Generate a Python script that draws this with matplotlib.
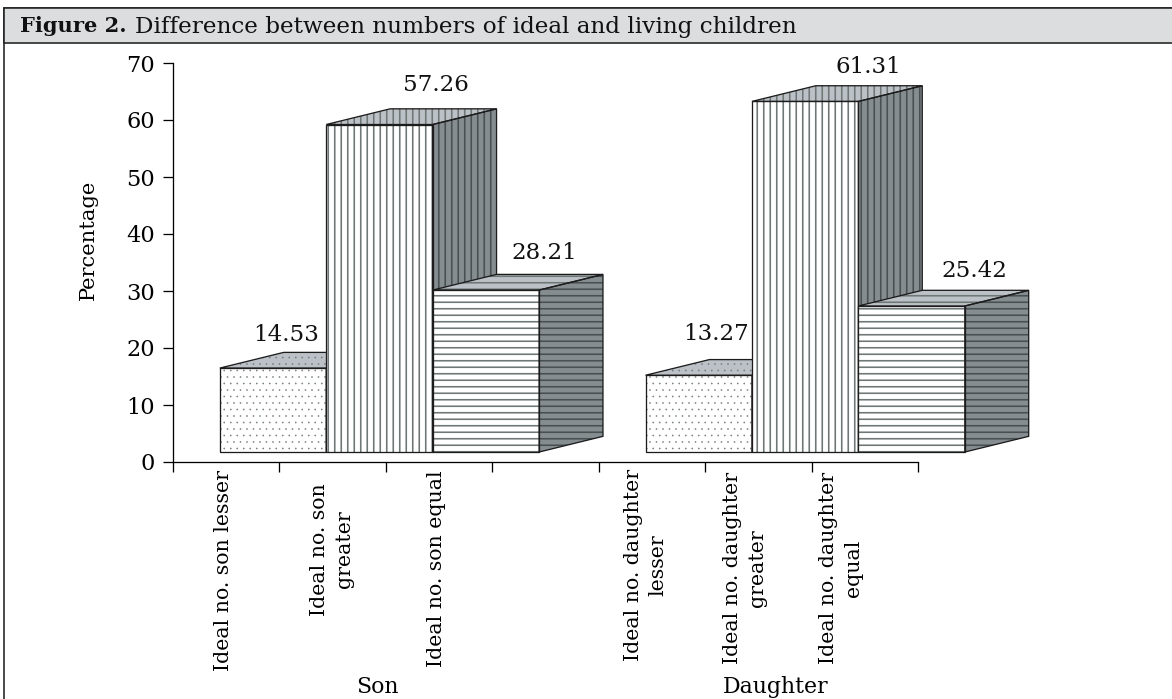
import matplotlib
matplotlib.use("Agg")
import matplotlib.pyplot as plt
from matplotlib.patches import Polygon, Rectangle

W, H = 1172, 699
DPI = 78

categories = ["Ideal no. son lesser", "Ideal no. son\ngreater", "Ideal no. son equal",
              "Ideal no. daughter\nlesser", "Ideal no. daughter\ngreater", "Ideal no. daughter\nequal"]
slots = [0, 1, 2, 4, 5, 6]
values = [14.53, 57.26, 28.21, 13.27, 61.31, 25.42]
hatches = ["..", "||", "--", "..", "||", "--"]
groups = ["Son", "Daughter"]
group_pos = [1.92, 5.66]
y_ticks = [0, 10, 20, 30, 40, 50, 60, 70]

# hand placement, the source chart did not centre these
cat_x = [0.47, 1.49, 2.48, 4.44, 5.37, 6.28]
cat_drop = [8, 21, 8, 7, 10, 10]
val_off = [(66, 17), (110, 24), (112, 21), (71, 26), (116, 19), (116, 19)]

BASE = 1.75       # the floor of the 3-D box sits above zero
LEFT = 0.44       # bar front starts this far into its slot
DX, DY = 0.6, 2.75  # depth offset of the back face

plt.rcParams["font.family"] = ["DejaVu Serif"]
plt.rcParams["hatch.linewidth"] = 1.5
fs = 72.0 / DPI  # px to pt

fig = plt.figure(figsize=(W / DPI, H / DPI), dpi=DPI)


def px_rect(x0, y0, x1, y1):
    return [x0 / W, 1 - y1 / H, (x1 - x0) / W, (y1 - y0) / H]


# frame and title band, right and bottom sides run off the picture
r = px_rect(4, 8, 1190, 720)
fig.add_artist(Rectangle((r[0], r[1]), r[2], r[3], transform=fig.transFigure,
                         fc="white", ec="#222222", lw=1.6 * fs, zorder=-2))
r = px_rect(4, 8, 1190, 43)
fig.add_artist(Rectangle((r[0], r[1]), r[2], r[3], transform=fig.transFigure,
                         fc="#dcdddf", ec="#222222", lw=1.6 * fs, zorder=-1))
fig.text(20 / W, 1 - 32.5 / H, "Figure 2.", fontsize=21 * fs, fontweight="bold", color="#111111")
fig.text(135 / W, 1 - 32.5 / H, "Difference between numbers of ideal and living children",
         fontsize=23.1 * fs, color="#111111")

ax = fig.add_axes(px_rect(173, 63, 918, 462))
ax.patch.set_alpha(0)
ax.set_xlim(0, 7)
ax.set_ylim(0, 70)
for s in ["top", "right"]:
    ax.spines[s].set_visible(False)
for s in ["left", "bottom"]:
    ax.spines[s].set_linewidth(1.3 * fs)

ax.set_yticks(y_ticks)
ax.tick_params(axis="y", length=10 * fs, width=1.3 * fs, labelsize=22.5 * fs, pad=8 * fs)
ax.set_xticks(range(8))
ax.set_xticklabels([])
ax.tick_params(axis="x", which="major", length=10 * fs, width=1.3 * fs)
ax.set_ylabel("Percentage", fontsize=21 * fs)
ax.yaxis.set_label_coords(-75 / 745, 0.556)

for lab, x, drop in zip(categories, cat_x, cat_drop):
    ax.annotate(lab, xy=(x, 0), xytext=(0, -drop * fs), textcoords="offset points", rotation=90,
                fontsize=20.5 * fs, va="top", ha="center", linespacing=1.4, multialignment="center")


def face(pts, fc, hatch, hatch_col, zorder):
    p = Polygon(pts, closed=True, fc=fc, ec=hatch_col, hatch=hatch, lw=0, clip_on=False, zorder=zorder)
    if hatch == "..":
        p.set_hatch_linewidth(0.3)
    ax.add_patch(p)
    ax.add_patch(Polygon(pts, closed=True, fc="none", ec="#1c1c1c", lw=1.3 * fs,
                         clip_on=False, zorder=zorder + 0.1))


for i, v in zip(slots, values):
    k = slots.index(i)
    x0, x1 = i + LEFT, i + 1 + LEFT
    y0, y1 = BASE, v + BASE + 0.2
    z = 3 + i
    face([(x0, y0), (x1, y0), (x1, y1), (x0, y1)], "white", hatches[k], "#6f7777", z)
    face([(x1, y0), (x1 + DX, y0 + DY), (x1 + DX, y1 + DY), (x1, y1)], "#868d91", hatches[k], "#485052", z)
    face([(x0, y1), (x1, y1), (x1 + DX, y1 + DY), (x0 + DX, y1 + DY)], "#bcc1c7", hatches[k], "#6f7777", z)
    dx, dy = val_off[k]
    ax.annotate(f"{v:.2f}", xy=(x0, y1 + DY), xytext=(dx * fs, dy * fs), textcoords="offset points",
                fontsize=23 * fs, ha="center", va="center", color="#111111", zorder=30)

for g, x in zip(groups, group_pos):
    ax.text(x, -40.5, g, fontsize=22 * fs, ha="center", va="baseline", clip_on=False)

fig.savefig("out.png", dpi=DPI)
